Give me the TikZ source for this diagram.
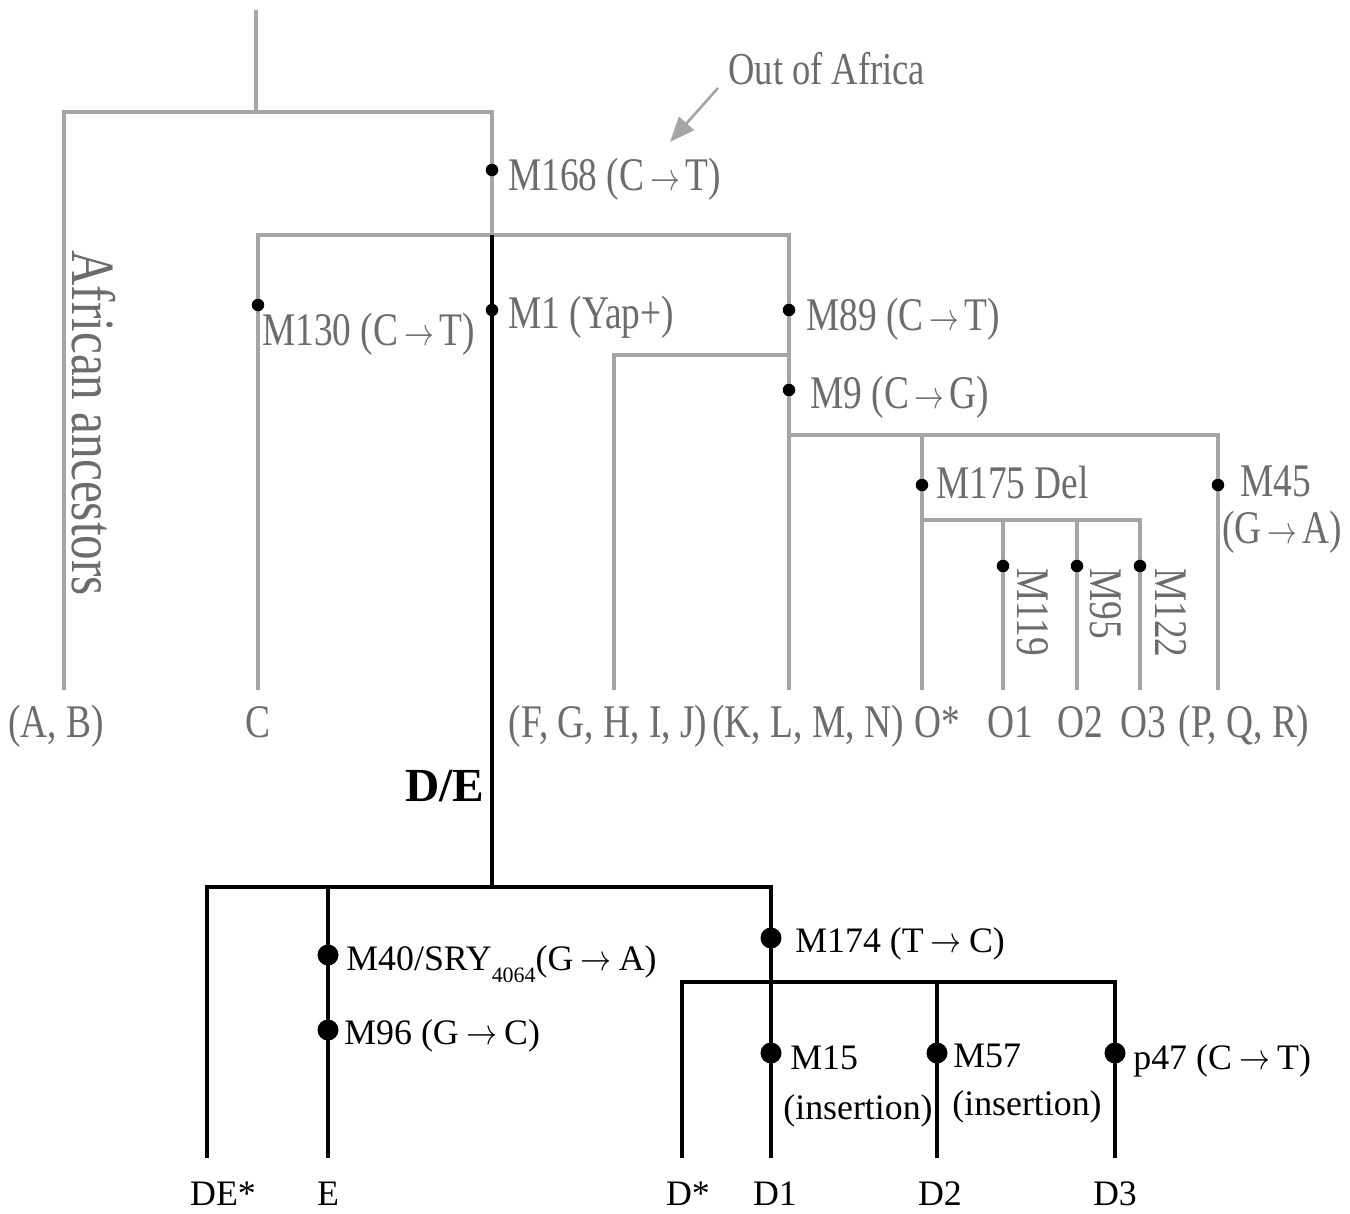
\documentclass[tikz,border=0pt]{standalone}
\usepackage{graphicx}
\usepackage{fontspec}
\setmainfont{Liberation Serif}
\newfontfamily\grayfont[FakeStretch=0.8]{Liberation Serif}
\usetikzlibrary{arrows.meta}
\definecolor{lineg}{RGB}{165,165,165}
\definecolor{textg}{RGB}{108,108,108}
\newcommand{\garr}{\hspace{0.12em}\scalebox{0.68}[0.9]{$\rightarrow$}\hspace{0.12em}}
\newcommand{\barr}{\hspace{0.2em}\scalebox{0.85}[1]{$\rightarrow$}\hspace{0.2em}}
\begin{document}
\begin{tikzpicture}[x=0.02cm,y=-0.02cm,
  glin/.style={draw=lineg, line width=2.3pt, line join=miter},
  blin/.style={draw=black, line width=2.8pt, line join=miter},
  gdot/.style={circle, fill=black, inner sep=0pt, minimum size=0.25cm},
  bdot/.style={circle, fill=black, inner sep=0pt, minimum size=0.42cm},
  glab/.style={text=textg, font=\grayfont\fontsize{26.6}{30}\selectfont, inner sep=0pt, anchor=base west},
  glabc/.style={glab, anchor=base},
  blab/.style={text=black, font=\fontsize{20.4}{24}\selectfont, inner sep=0pt, anchor=base west},
  blabc/.style={blab, anchor=base}]
\useasboundingbox (0,0) rectangle (1350,1214);
\fill[white] (0,0) rectangle (1350,1214);

% ---------- coordinates (upper, grey part)
\coordinate (root) at (256,10);
\coordinate (j0) at (256,112);
\coordinate (tl) at (64,112);
\coordinate (tr) at (492,112);
\coordinate (abend) at (64,690);
\coordinate (j1) at (492,235);
\coordinate (cl) at (258,235);
\coordinate (cr) at (789,235);
\coordinate (cend) at (258,690);
\coordinate (j2) at (789,355);
\coordinate (fl) at (614,355);
\coordinate (fend) at (614,690);
\coordinate (j3) at (789,435);
\coordinate (kend) at (789,690);
\coordinate (ot) at (922,435);
\coordinate (pt) at (1218,435);
\coordinate (pend) at (1218,690);
\coordinate (j4) at (922,520);
\coordinate (oend) at (922,690);
\coordinate (o1t) at (1003,520);
\coordinate (o1e) at (1003,690);
\coordinate (o2t) at (1077,520);
\coordinate (o2e) at (1077,690);
\coordinate (o3t) at (1140,520);
\coordinate (o3e) at (1140,690);
% ---------- coordinates (lower, black part)
\coordinate (de) at (492,887);
\coordinate (dl) at (207,887);
\coordinate (dr) at (771,887);
\coordinate (deend) at (207,1158);
\coordinate (et) at (328,887);
\coordinate (eend) at (328,1158);
\coordinate (j5) at (771,982);
\coordinate (dsl) at (682,982);
\coordinate (dsr) at (1115,982);
\coordinate (dsend) at (682,1158);
\coordinate (d1end) at (771,1158);
\coordinate (d2t) at (937,982);
\coordinate (d2end) at (937,1158);
\coordinate (d3end) at (1115,1158);

% ---------- grey lines
\draw[glin] (root) -- (j0);
\draw[glin] (abend) -- (tl) -- (tr) -- (j1);
\draw[glin] (cend) -- (cl) -- (cr) -- (kend);
\draw[glin] (fend) -- (fl) -- (j2);
\draw[glin] (j3) -- (pt) -- (pend);
\draw[glin] (ot) -- (oend);
\draw[glin] (j4) -- (o3t) -- (o3e);
\draw[glin] (o1t) -- (o1e);
\draw[glin] (o2t) -- (o2e);

% ---------- black lines
\draw[blin] (j1) -- (de);
\draw[blin] (deend) -- (dl) -- (dr) -- (d1end);
\draw[blin] (et) -- (eend);
\draw[blin] (dsend) -- (dsl) -- (dsr) -- (d3end);
\draw[blin] (d2t) -- (d2end);

% ---------- grey dots and labels
\node[gdot] (m168) at (492,170) {};
\node[glab] (m168l) at (508,190) {M168 (C\garr T)};
\node[gdot] (m130) at (258,305) {};
\node[glab] (m130l) at (262,345) {M130 (C\garr T)};
\node[gdot] (m1) at (492,310) {};
\node[glab] (m1l) at (508,328) {M1 (Yap+)};
\node[gdot] (m89) at (789,310) {};
\node[glab] (m89l) at (806,330) {M89 (C\garr T)};
\node[gdot] (m9) at (789,390) {};
\node[glab] (m9l) at (810,408) {M9 (C\garr G)};
\node[gdot] (m175) at (922,485) {};
\node[glab] (m175l) at (936,498) {M175 Del};
\node[gdot] (m45) at (1218,485) {};
\node[glab] (m45l) at (1240,496) {M45};
\node[glab] (m45m) at (1222,543) {(G\garr A)};
\node[gdot] (m119) at (1003,566) {};
\node[glab, rotate=-90] (m119l) at (1017,568) {M119};
\node[gdot] (m95) at (1077,566) {};
\node[glab, rotate=-90] (m95l) at (1090,568) {M95};
\node[gdot] (m122) at (1140,566) {};
\node[glab, rotate=-90] (m122l) at (1155,568) {M122};

\node[glab, rotate=-90, font=\grayfont\fontsize{35}{36}\selectfont] (afr) at (72,250) {African ancestors};

\node[glab, font=\grayfont\fontsize{26}{28}\selectfont] (ooa) at (728,84) {Out of Africa};
\coordinate (ooas) at (718,88);
\coordinate (ooae) at (670,142);
\draw[draw=lineg, line width=1.5pt, -{Triangle[length=0.5cm,width=0.4cm]}] (ooas) -- (ooae);

% ---------- grey end labels
\node[glabc] (ab) at (56,737) {(A, B)};
\node[glabc] (c) at (258,737) {C};
\node[glabc] (fg) at (608,737) {(F, G, H, I, J)};
\node[glabc] (kl) at (808,737) {(K, L, M, N)};
\node[glabc] (os) at (937,737) {O*};
\node[glabc] (o1) at (1010,737) {O1};
\node[glabc] (o2) at (1080,737) {O2};
\node[glabc] (o3) at (1143,737) {O3};
\node[glabc] (pq) at (1244,737) {(P, Q, R)};

% ---------- black part labels
\node[blab, font=\bfseries\fontsize{27}{30}\selectfont] (del) at (405,801) {D/E};
\node[bdot] (m40) at (328,955) {};
\node[blab] (m40l) at (346,970) {M40/SRY\raisebox{-7pt}{\fontsize{12.5}{13}\selectfont 4064}(G\barr A)};
\node[bdot] (m96) at (328,1030) {};
\node[blab] (m96l) at (344,1044) {M96 (G\barr C)};
\node[bdot] (m174) at (771,938) {};
\node[blab] (m174l) at (795,952) {M174 (T\barr C)};
\node[bdot] (m15) at (771,1053) {};
\node[blab] (m15l) at (790,1069) {M15};
\node[blab] (m15i) at (783,1119) {(insertion)};
\node[bdot] (m57) at (937,1053) {};
\node[blab] (m57l) at (953,1067) {M57};
\node[blab] (m57i) at (952,1115) {(insertion)};
\node[bdot] (p47) at (1115,1053) {};
\node[blab] (p47l) at (1133,1069) {p47 (C\barr T)};

\node[blabc] (des) at (223,1205) {DE*};
\node[blabc] (e) at (328,1205) {E};
\node[blabc] (ds) at (688,1205) {D*};
\node[blabc] (d1) at (775,1205) {D1};
\node[blabc] (d2) at (940,1205) {D2};
\node[blabc] (d3) at (1115,1205) {D3};
\end{tikzpicture}
\end{document}
